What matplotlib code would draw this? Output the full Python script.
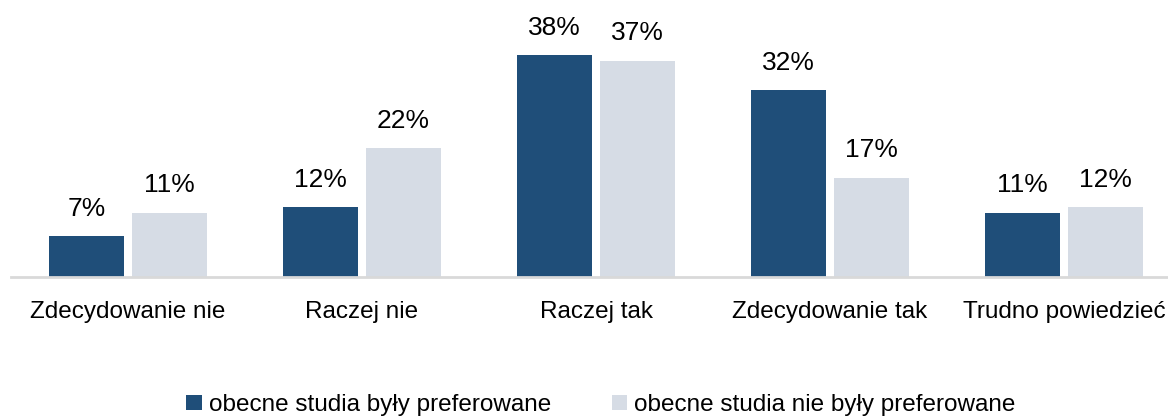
import numpy as np
import matplotlib.pyplot as plt
from matplotlib import font_manager

# condensed font if available, otherwise fall back
names = {f.name for f in font_manager.fontManager.ttflist}
if 'Liberation Sans Narrow' in names:
    plt.rcParams['font.family'] = ['Liberation Sans Narrow', 'DejaVu Sans']
else:
    plt.rcParams['font.family'] = ['Liberation Sans', 'DejaVu Sans']

categories = ['Zdecydowanie nie', 'Raczej nie', 'Raczej tak', 'Zdecydowanie tak', 'Trudno powiedzieć']
preferred = [7, 12, 38, 32, 11]
not_preferred = [11, 22, 37, 17, 12]
series_names = ['obecne studia były preferowane', 'obecne studia nie były preferowane']
colors = ['#1F4E79', '#D6DCE5']

fig = plt.figure(figsize=(11.68, 4.17), dpi=100)
# axes runs slightly past the right edge, like the original layout
ax = fig.add_axes([11 / 1168, 140 / 417, 1170 / 1168, 259 / 417])

x = np.arange(len(categories))
w = 0.32
off = 0.177
b1 = ax.bar(x - off, preferred, w, color=colors[0], label=series_names[0])
b2 = ax.bar(x + off, not_preferred, w, color=colors[1], label=series_names[1])

for bars, vals in ((b1, preferred), (b2, not_preferred)):
    for r, v in zip(bars, vals):
        ax.annotate('%d%%' % v, (r.get_x() + r.get_width() / 2, v),
                    xytext=(0, 11), textcoords='offset points',
                    ha='center', va='bottom', fontsize=19)

ax.set_xlim(-0.5, 4.5)
ax.set_ylim(0, 44.3)
ax.set_xticks(x)
ax.set_xticklabels(categories, fontsize=17.5)
ax.tick_params(axis='x', length=0, pad=17)
ax.set_yticks([])
for s in ['top', 'right', 'left']:
    ax.spines[s].set_visible(False)
ax.spines['bottom'].set_color('#D9D9D9')
ax.spines['bottom'].set_linewidth(2)

fig.legend(handles=[b1, b2], loc='center', bbox_to_anchor=(601 / 1168, 1 - 405 / 417),
           ncol=2, frameon=False, fontsize=17.5, handlelength=0.62, handleheight=0.62,
           handletextpad=0.3, columnspacing=2.5)

fig.savefig('out.png', dpi=100)
